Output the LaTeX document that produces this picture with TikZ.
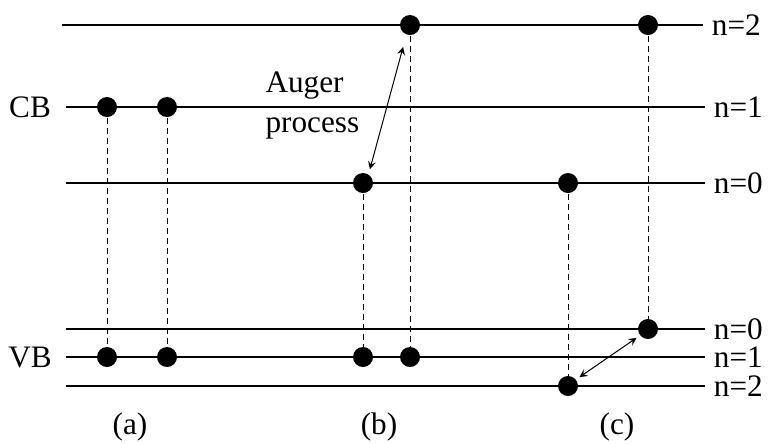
\documentclass[tikz,border=0pt]{standalone}
\usepackage{fontspec}
\setmainfont{Liberation Serif}
\usetikzlibrary{arrows}

\begin{document}
\begin{tikzpicture}[x=0.4pt, y=-0.4pt, >=stealth, font=\fontsize{12.5}{16}\selectfont]
		\tikzstyle{dot}=[circle, fill=black, inner sep=0pt, minimum size=8pt]
		\tikzstyle{level}=[line width=0.5pt]
		\tikzstyle{link}=[line width=0.4pt, dash pattern=on 2.4pt off 1.6pt]
		\useasboundingbox (0,0) rectangle (773,443);

			% energy levels
			\draw[level] (62,25) -- (703,25) node[right] {n=2};
			\draw[level] (66,107) -- (705,107) node[right] {n=1};
			\draw[level] (66,183) -- (705,183) node[right] {n=0};
			\draw[level] (66,329) -- (705,329) node[right] {n=0};
			\draw[level] (66,357) -- (705,357) node[right] {n=1};
			\draw[level] (66,386) -- (705,386) node[right] {n=2};

			\node (cb) at (30,107) {CB};
			\node (vb) at (30,357) {VB};

			% (a)
			\node[dot] (a1c) at (107,107) {};
			\node[dot] (a2c) at (167,107) {};
			\node[dot] (a1v) at (107,357) {};
			\node[dot] (a2v) at (167,357) {};
			\draw[link] (a1c) -- (a1v);
			\draw[link] (a2c) -- (a2v);

			% (b)
			\node[dot] (bt) at (410,25) {};
			\node[dot] (bc) at (363,183) {};
			\node[dot] (bv1) at (363,357) {};
			\node[dot] (bv2) at (410,357) {};
			\draw[link] (bc) -- (bv1);
			\draw[link] (bt) -- (bv2);
			\draw[<->, shorten <=2pt, shorten >=5pt] (bc.58) -- (bt.250);
			\node[anchor=north west, inner sep=0pt, align=left] (auger) at (265,71) {Auger\\process};

			% (c)
			\node[dot] (ct) at (648,25) {};
			\node[dot] (cc) at (568,183) {};
			\node[dot] (cv0) at (648,329) {};
			\node[dot] (cv2) at (568,386) {};
			\draw[link] (cc) -- (cv2);
			\draw[link] (ct) -- (cv0);
			\draw[<->, shorten <=1.6pt, shorten >=1.6pt] (cv2.39) -- (cv0.219);

			\node[anchor=base, inner sep=0pt] (la) at (130,434) {(a)};
			\node[anchor=base, inner sep=0pt] (lb) at (379,434) {(b)};
			\node[anchor=base, inner sep=0pt] (lc) at (617,434) {(c)};
		\end{tikzpicture}
\end{document}
